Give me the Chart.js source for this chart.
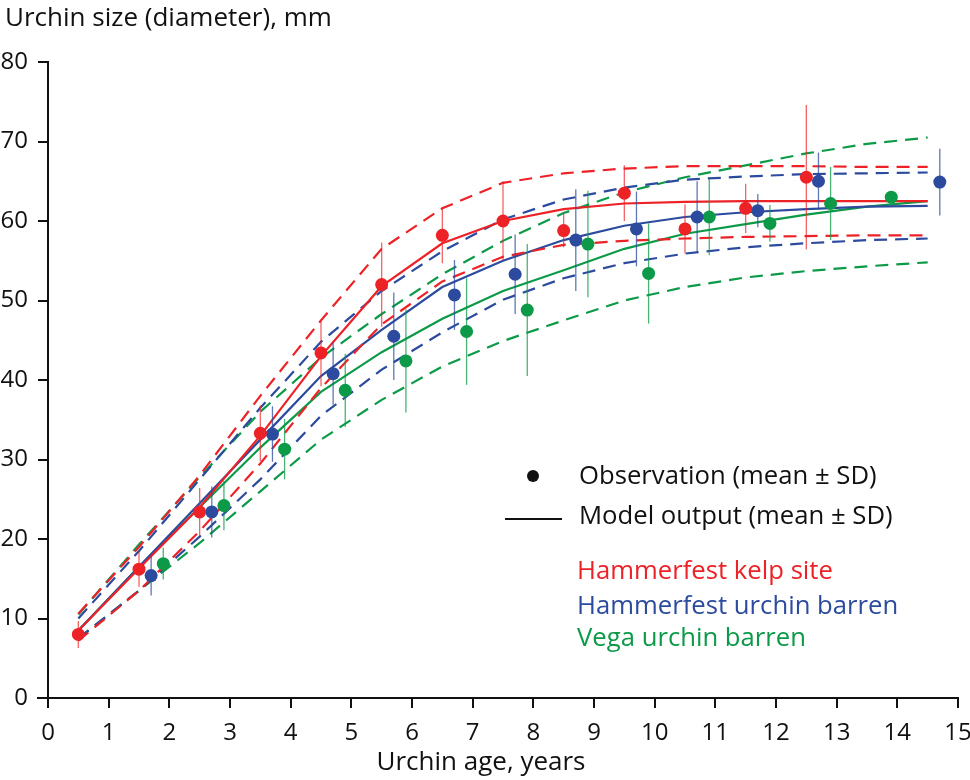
<!DOCTYPE html>
<html>
<head>
<meta charset="utf-8">
<script src="https://cdn.jsdelivr.net/npm/chart.js@4/dist/chart.umd.min.js"></script>
<style>
  html, body { margin: 0; padding: 0; background: #fff; }
  #wrap { position: relative; width: 970px; height: 780px; }
  #wrap canvas, #wrap svg { position: absolute; left: 0; top: 0; }
  svg text { font-family: "Open Sans", sans-serif; font-size: 25.7px; }
  svg text.axis-title { font-size: 26px; }
</style>
</head>
<body>
<div id="wrap">
  <canvas id="growthChart" width="970" height="780"></canvas>
  <svg width="970" height="780">
    <text class="axis-title" x="5" y="26" fill="#111">Urchin size (diameter), mm</text>
    <text class="axis-title" x="481" y="770" fill="#111" text-anchor="middle">Urchin age, years</text>

    <circle cx="533" cy="476" r="6" fill="#111"></circle>
    <text x="579" y="484" fill="#111">Observation (mean ± SD)</text>
    <line x1="505" y1="519" x2="562" y2="519" stroke="#111" stroke-width="2"></line>
    <text x="579" y="524" fill="#111">Model output (mean ± SD)</text>
    <text x="577" y="579" fill="#EC2227">Hammerfest kelp site</text>
    <text x="577" y="614" fill="#2C4B9E">Hammerfest urchin barren</text>
    <text x="577" y="646" fill="#0C9A48">Vega urchin barren</text>
  </svg>
</div>

<script>

/* MODEL OUTPUT (mean and mean ± SD) */

const modelAges = [0.5, 1.5, 2.5, 3.5, 4.5, 5.5, 6.5, 7.5, 8.5, 9.5, 10.5, 11.5, 12.5, 13.5, 14.5];

const kelpMean  = [8.5, 16.3, 24.0, 33.0, 43.0, 51.8, 57.2, 60.0, 61.5, 62.2, 62.4, 62.5, 62.5, 62.5, 62.5];
const kelpUpper = [10.6, 19.0, 28.0, 38.0, 47.5, 56.5, 61.6, 64.8, 66.0, 66.6, 66.9, 66.9, 66.9, 66.8, 66.8];
const kelpLower = [7.2, 13.5, 21.0, 29.5, 39.0, 47.0, 52.4, 55.5, 57.0, 57.5, 57.8, 58.0, 58.1, 58.2, 58.2];

const hBarrenMean  = [8.5, 16.5, 24.5, 32.5, 40.5, 46.3, 51.7, 55.0, 57.6, 59.4, 60.5, 61.1, 61.5, 61.8, 61.9];
const hBarrenUpper = [10.0, 18.5, 27.5, 36.5, 44.8, 51.2, 56.2, 60.2, 62.7, 64.2, 65.2, 65.6, 65.9, 66.0, 66.1];
const hBarrenLower = [7.5, 13.5, 20.3, 27.5, 35.5, 41.3, 46.0, 50.1, 52.8, 54.7, 55.9, 56.7, 57.2, 57.6, 57.8];

const vegaMean  = [8.5, 16.5, 24.0, 31.5, 38.5, 43.5, 47.7, 51.2, 53.8, 56.5, 58.4, 59.6, 60.8, 61.8, 62.5];
const vegaUpper = [10.5, 19.3, 27.8, 36.0, 42.8, 48.3, 53.3, 57.5, 61.0, 63.6, 65.5, 67.0, 68.5, 69.7, 70.5];
const vegaLower = [7.5, 13.5, 19.5, 26.0, 32.5, 37.5, 41.7, 44.9, 47.5, 50.0, 51.7, 52.9, 53.7, 54.3, 54.8];

/* OBSERVATIONS (mean and SD) */

const kelpObsAge  = [0.5, 1.5, 2.5, 3.5, 4.5, 5.5, 6.5, 7.5, 8.5, 9.5, 10.5, 11.5, 12.5];
const kelpObsMean = [8.0, 16.2, 23.4, 33.3, 43.4, 52.0, 58.2, 60.0, 58.8, 63.5, 59.0, 61.6, 65.5];
const kelpObsSD   = [1.7, 2.2, 3.0, 3.5, 4.2, 5.3, 3.5, 5.0, 2.1, 3.5, 3.1, 3.1, 9.1];

const hBarrenObsAge  = [1.7, 2.7, 3.7, 4.7, 5.7, 6.7, 7.7, 8.7, 9.7, 10.7, 11.7, 12.7, 14.7];
const hBarrenObsMean = [15.4, 23.4, 33.2, 40.8, 45.5, 50.7, 53.3, 57.6, 59.0, 60.5, 61.3, 65.0, 64.9];
const hBarrenObsSD   = [2.5, 3.2, 3.5, 3.9, 5.5, 4.4, 5.0, 6.4, 4.7, 4.5, 2.1, 3.6, 4.2];

const vegaObsAge  = [1.9, 2.9, 3.9, 4.9, 5.9, 6.9, 7.9, 8.9, 9.9, 10.9, 11.9, 12.9, 13.9];
const vegaObsMean = [16.9, 24.2, 31.3, 38.7, 42.4, 46.1, 48.8, 57.1, 53.4, 60.5, 59.7, 62.2, 63.0];
const vegaObsSD   = [2.0, 3.1, 3.8, 4.6, 6.5, 6.7, 8.3, 6.7, 6.3, 4.8, 2.3, 4.6, 0];

/* AXES */

const xTicks = [0, 1, 2, 3, 4, 5, 6, 7, 8, 9, 10, 11, 12, 13, 14, 15];
const yTicks = [0, 10, 20, 30, 40, 50, 60, 70, 80];

const RED = "#EC2227";
const BLUE = "#2C4B9E";
const GREEN = "#0C9A48";

function pts(xs, ys) {
    return xs.map((x, i) => ({ x: x, y: ys[i] }));
}

function modelLine(ys, color, dashed, order) {
    return {
        data: pts(modelAges, ys),
        showLine: true,
        borderColor: color,
        borderWidth: 2.2,
        borderDash: dashed ? [13, 8] : [],
        pointRadius: 0,
        pointHoverRadius: 0,
        tension: 0,
        fill: false,
        order: order
    };
}

function observations(xs, ys, sd, color, barColor, order) {
    return {
        data: pts(xs, ys),
        sd: sd,
        barColor: barColor,
        showLine: false,
        backgroundColor: color,
        borderWidth: 0,
        pointRadius: 6.5,
        pointHoverRadius: 6.5,
        order: order
    };
}

/* error bars go under each observation dataset */

const errorBars = {
    id: "errorBars",
    beforeDatasetDraw(chart, args) {
        const ds = chart.data.datasets[args.index];
        if (!ds.sd) return;
        const xs = chart.scales.x;
        const ys = chart.scales.y;
        const ctx = chart.ctx;
        ctx.save();
        ctx.strokeStyle = ds.barColor;
        ctx.lineWidth = 1.3;
        ds.data.forEach((p, i) => {
            const s = ds.sd[i];
            if (!s) return;
            const px = xs.getPixelForValue(p.x);
            ctx.beginPath();
            ctx.moveTo(px, ys.getPixelForValue(p.y - s));
            ctx.lineTo(px, ys.getPixelForValue(p.y + s));
            ctx.stroke();
        });
        ctx.restore();
    }
};

/* x baseline from the 0 tick of y to the last x tick */

const baseline = {
    id: "baseline",
    afterDraw(chart) {
        const xs = chart.scales.x;
        const ys = chart.scales.y;
        const ctx = chart.ctx;
        const y0 = ys.getPixelForValue(0);
        ctx.save();
        ctx.strokeStyle = "#111";
        ctx.lineWidth = 2;
        ctx.beginPath();
        ctx.moveTo(xs.getPixelForValue(xTicks[0]) - 11, y0);
        ctx.lineTo(xs.getPixelForValue(xTicks[xTicks.length - 1]) + 1, y0);
        ctx.stroke();
        ctx.restore();
    }
};

const axisFont = { family: "'Open Sans', sans-serif", size: 24 };

new Chart(document.getElementById("growthChart"), {

    type: "scatter",

    data: {
        datasets: [
            modelLine(vegaUpper, GREEN, true, 36),
            modelLine(vegaLower, GREEN, true, 35),
            modelLine(vegaMean, GREEN, false, 34),
            modelLine(hBarrenUpper, BLUE, true, 26),
            modelLine(hBarrenLower, BLUE, true, 25),
            modelLine(hBarrenMean, BLUE, false, 24),
            modelLine(kelpUpper, RED, true, 16),
            modelLine(kelpLower, RED, true, 15),
            modelLine(kelpMean, RED, false, 14),
            observations(vegaObsAge, vegaObsMean, vegaObsSD, GREEN, "rgba(12,154,72,0.75)", 3),
            observations(hBarrenObsAge, hBarrenObsMean, hBarrenObsSD, BLUE, "rgba(44,75,158,0.75)", 2),
            observations(kelpObsAge, kelpObsMean, kelpObsSD, RED, "rgba(236,34,39,0.7)", 1)
        ]
    },

    options: {
        responsive: false,
        animation: false,
        devicePixelRatio: 1,
        layout: {
            padding: { top: 62, right: 12, left: 0, bottom: 0 }
        },
        plugins: {
            legend: { display: false },
            tooltip: { enabled: false }
        },
        scales: {
            x: {
                type: "linear",
                min: 0,
                max: 15,
                afterFit: s => {
                    s.height = 82;
                    s.paddingLeft = 0;
                    s.paddingRight = 0;
                },
                afterBuildTicks: s => { s.ticks = xTicks.map(v => ({ value: v })); },
                ticks: {
                    color: "#111",
                    font: axisFont,
                    padding: 11,
                    maxRotation: 0
                },
                grid: {
                    drawOnChartArea: false,
                    drawTicks: true,
                    tickLength: 10,
                    color: "#111",
                    lineWidth: 2
                },
                border: { display: false }
            },
            y: {
                type: "linear",
                min: 0,
                max: 80,
                afterFit: s => {
                    s.width = 48;
                    s.paddingTop = 0;
                    s.paddingBottom = 0;
                },
                afterBuildTicks: s => { s.ticks = yTicks.map(v => ({ value: v })); },
                ticks: {
                    color: "#111",
                    font: axisFont,
                    padding: 10
                },
                grid: {
                    drawOnChartArea: false,
                    drawTicks: true,
                    tickLength: 10,
                    color: "#111",
                    lineWidth: 2
                },
                border: { display: true, color: "#111", width: 2 }
            }
        }
    },

    plugins: [errorBars, baseline]

});

</script>
</body>
</html>
